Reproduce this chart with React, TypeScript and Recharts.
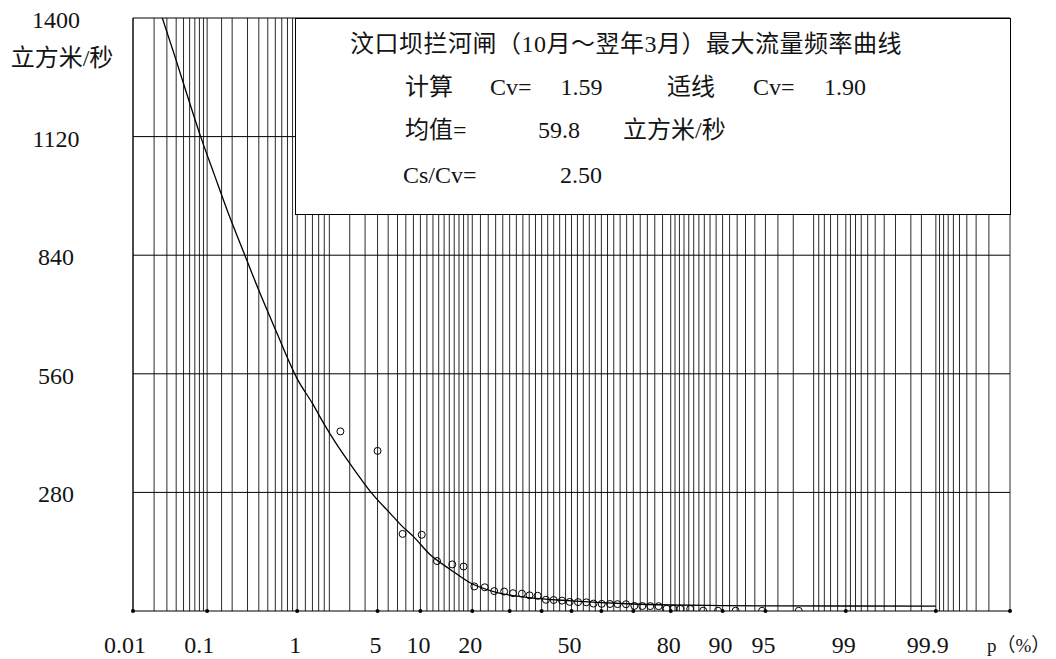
import React from 'react';
import { ComposedChart, XAxis, YAxis, Line, Scatter, ReferenceLine, Customized } from 'recharts';

// ---------- data ----------
// observed maxima (p in %, Q in m3/s)
const obsP = [2.5, 5, 7.6, 10.2, 12.7, 15.6, 18, 20.5, 23.1, 25.6, 28.4, 31, 33.7, 36.1, 38.7, 41.4, 44, 46.8, 49.4, 52.2, 55, 57.4, 60.1, 62.8, 65.2, 67.8, 70.3, 72.6, 74.8, 77, 79, 80.6, 82.2, 84.3, 86.8, 89.3, 91.8, 94.7, 97.3];
const obsQ = [424, 378, 182, 180, 118, 110, 105, 58, 56, 47, 46, 42, 41, 37, 36, 26.5, 26, 24.5, 21.5, 21, 20.5, 17.5, 16.8, 16.5, 16.2, 16, 12, 11.8, 11.6, 11.4, 5.5, 5.2, 5, 4.8, 0.8, 0.7, 0.6, 0.5, 0.5];

// fitted frequency curve
const curveP = [0.026, 0.04, 0.06, 0.083, 0.12, 0.19, 0.28, 0.4, 0.6, 1, 1.4, 1.78, 2.3, 2.94, 3.7, 4.54, 6.23, 7.5, 9.04, 11.6, 15.2, 19.6, 26.4, 35.8, 50, 60, 70, 80, 90, 95, 99, 99.9];
const curveQ = [1400, 1300, 1200, 1120, 1035, 927, 840, 757, 665, 548, 490, 443, 395, 352, 312, 277, 230, 201, 175, 132, 98, 66, 43.5, 31.7, 24, 20, 16.5, 14.2, 12.8, 12.3, 11.8, 11.5];

// axis definitions
const xTickP = [0.01, 0.1, 1, 5, 10, 20, 30, 40, 50, 60, 70, 80, 90, 95, 99, 99.9, 99.99];
const xTickLabels = ['0.01', '0.1', '1', '5', '10', '20', '', '', '50', '', '', '80', '90', '95', '99', '99.9', ''];
const yTicks = [0, 280, 560, 840, 1120, 1400];
const yTickLabels = ['', '280', '560', '840', '1120', '1400'];
const yGrid = [280, 560, 840, 1120, 1400];
const gridP = [
  0.01, 0.02, 0.03, 0.04, 0.05, 0.06, 0.07, 0.08, 0.09,
  0.1, 0.15, 0.2, 0.3, 0.4, 0.5, 0.6, 0.7, 0.8, 0.9,
  1, 1.2, 1.4, 1.6, 1.8, 2, 3, 4, 5, 6, 7, 8, 9,
  10, 11, 12, 13, 14, 15, 16, 17, 18, 19,
  20, 22, 24, 26, 28, 30, 32, 34, 36, 38, 40, 42, 44, 46, 48, 50,
  52, 54, 56, 58, 60, 62, 64, 66, 68, 70, 72, 74, 76, 78,
  80, 81, 82, 83, 84, 85, 86, 87, 88, 89, 90,
  91, 92, 93, 94, 95, 96, 97, 98, 98.2, 98.4, 98.6, 98.8,
  99, 99.1, 99.2, 99.3, 99.4, 99.5, 99.6, 99.7, 99.8, 99.85,
  99.9, 99.91, 99.92, 99.93, 99.94, 99.95, 99.96, 99.97, 99.98, 99.99,
];

const titleText = '汶口坝拦河闸（10月～翌年3月）最大流量频率曲线';
const unitText = '立方米/秒';
const xAxisName = 'p（%）';

// ---------- probability-paper transform (normal quantile) ----------
function probit(p: number): number {
  const a = [-3.969683028665376e1, 2.209460984245205e2, -2.759285104469687e2, 1.38357751867269e2, -3.066479806614716e1, 2.506628277459239];
  const b = [-5.447609879822406e1, 1.615858368580409e2, -1.556989798598866e2, 6.680131188771972e1, -1.328068155288572e1];
  const c = [-7.784894002430293e-3, -3.223964580411365e-1, -2.400758277161838, -2.549732539343734, 4.374664141464968, 2.938163982698783];
  const d = [7.784695709041462e-3, 3.224671290700398e-1, 2.445134137142996, 3.754408661907416];
  const pl = 0.02425;
  if (p < pl) {
    const q = Math.sqrt(-2 * Math.log(p));
    return (((((c[0] * q + c[1]) * q + c[2]) * q + c[3]) * q + c[4]) * q + c[5]) / ((((d[0] * q + d[1]) * q + d[2]) * q + d[3]) * q + 1);
  }
  if (p <= 1 - pl) {
    const q = p - 0.5;
    const r = q * q;
    return ((((((a[0] * r + a[1]) * r + a[2]) * r + a[3]) * r + a[4]) * r + a[5]) * q) / (((((b[0] * r + b[1]) * r + b[2]) * r + b[3]) * r + b[4]) * r + 1);
  }
  const q = Math.sqrt(-2 * Math.log(1 - p));
  return -(((((c[0] * q + c[1]) * q + c[2]) * q + c[3]) * q + c[4]) * q + c[5]) / ((((d[0] * q + d[1]) * q + d[2]) * q + d[3]) * q + 1);
}
const zOf = (pct: number) => probit(pct / 100);

const obsData = obsP.map((p, i) => ({ z: zOf(p), q: obsQ[i] }));
const curveData = curveP.map((p, i) => ({ z: zOf(p), q: curveQ[i] }));
const xTicks = xTickP.map(zOf);
const xDomain = [zOf(0.01), zOf(99.99)];

const FONT = '"Liberation Serif", "Noto Sans CJK SC", serif';
const INK = '#141414';
const LINE = '#2a2a2a';

const XTick = (props: any) => {
  const { x, y, index } = props;
  const label = xTickLabels[index];
  return (
    <g>
      <circle cx={x} cy={y} r={2} fill="#000" />
      {label ? (
        <text x={x + (label.includes('.') ? -8 : -2)} y={y + 34} textAnchor="middle" dominantBaseline="central" fontSize={24} fontFamily={FONT} fill={INK}>
          {label}
        </text>
      ) : null}
    </g>
  );
};

const YTick = (props: any) => {
  const { x, y, index } = props;
  const label = yTickLabels[index];
  if (!label) return <g />;
  return (
    <text x={x - 77} y={y + 2} textAnchor="middle" dominantBaseline="central" fontSize={24} fontFamily={FONT} fill={INK}>
      {label}
    </text>
  );
};

const AxisTexts = () => (
  <g>
    <text x={62} y={58} textAnchor="middle" dominantBaseline="central" fontSize={24} fontFamily={FONT} fill={INK}>{unitText}</text>
    <text x={987} y={645} fontSize={19} fontFamily={FONT} fill={INK} dominantBaseline="central">{xAxisName}</text>
  </g>
);

// legend box (HTML overlay so it sits above the grid)
const Txt = ({ x, y, children, center, spacing }: { x: number; y: number; children: React.ReactNode; center?: boolean; spacing?: number }) => (
  <span
    style={{
      position: 'absolute',
      left: x,
      top: y - 15,
      height: 30,
      lineHeight: '30px',
      fontSize: 24,
      fontFamily: FONT,
      color: INK,
      whiteSpace: 'nowrap',
      letterSpacing: spacing ? spacing : undefined,
      transform: center ? 'translateX(-50%)' : undefined,
    }}
  >
    {children}
  </span>
);

const LegendBox = () => (
  <>
    <div
      style={{
        position: 'absolute',
        left: 294.5,
        top: 18,
        width: 716,
        height: 197,
        boxSizing: 'border-box',
        border: '1px solid #000',
        background: '#fff',
      }}
    />
    <Txt x={350} y={44} spacing={0.5}>{titleText}</Txt>
    <Txt x={405} y={87}>计算</Txt>
    <Txt x={490} y={87}>Cv=</Txt>
    <Txt x={581.5} y={87} center>1.59</Txt>
    <Txt x={667} y={87}>适线</Txt>
    <Txt x={753} y={87}>Cv=</Txt>
    <Txt x={845} y={87} center>1.90</Txt>
    <Txt x={405} y={130}>均值=</Txt>
    <Txt x={559} y={130} center>59.8</Txt>
    <Txt x={623} y={130}>{unitText}</Txt>
    <Txt x={403} y={175}>Cs/Cv=</Txt>
    <Txt x={581} y={175} center>2.50</Txt>
  </>
);

export default function App() {
  return (
    <div style={{ position: 'absolute', left: 0, top: 0, width: 1056, height: 659, background: '#fff', overflow: 'hidden' }}>
      <ComposedChart width={1056} height={659} margin={{ top: 18, right: 46, bottom: 0, left: 0 }}>
        <XAxis
          type="number"
          dataKey="z"
          domain={xDomain}
          allowDataOverflow
          ticks={xTicks}
          interval={0}
          tick={<XTick />}
          tickLine={false}
          tickSize={0}
          tickMargin={0}
          height={48}
          axisLine={{ stroke: '#000', strokeWidth: 1 }}
        />
        <YAxis
          type="number"
          dataKey="q"
          domain={[0, 1400]}
          allowDataOverflow
          ticks={yTicks}
          interval={0}
          tick={<YTick />}
          tickLine={false}
          tickSize={0}
          tickMargin={0}
          width={133}
          axisLine={{ stroke: '#000', strokeWidth: 1 }}
        />
        {gridP.map((p) => (
          <ReferenceLine key={'v' + p} x={zOf(p)} stroke={LINE} strokeWidth={1} />
        ))}
        {yGrid.map((v) => (
          <ReferenceLine key={'h' + v} y={v} stroke="#000" strokeWidth={1} />
        ))}
        <Line data={curveData} dataKey="q" type="monotone" stroke="#000" strokeWidth={1.3} dot={false} isAnimationActive={false} />
        <Scatter
          data={obsData}
          dataKey="q"
          isAnimationActive={false}
          shape={(props: any) => <circle cx={props.cx} cy={props.cy} r={3.5} fill="none" stroke="#000" strokeWidth={1} />}
        />
        <Customized component={AxisTexts} />
      </ComposedChart>
      <LegendBox />
    </div>
  );
}
